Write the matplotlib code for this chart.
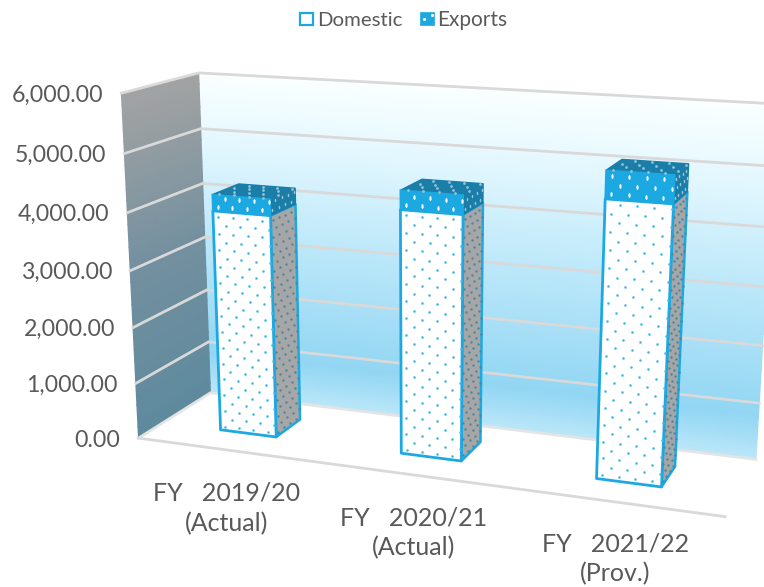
import numpy as np
import matplotlib
matplotlib.use("Agg")
import matplotlib.pyplot as plt
from matplotlib.colors import LinearSegmentedColormap
from matplotlib.markers import MarkerStyle
from matplotlib.patches import Polygon, Rectangle
from matplotlib.transforms import Affine2D

plt.rcParams['font.family'] = ['Lato', 'DejaVu Sans']

categories = ["FY   2019/20\n(Actual)", "FY   2020/21\n(Actual)", "FY   2021/22\n(Prov.)"]
domestic = [3940.0, 4220.0, 4650.0]
exports = [280.0, 320.0, 450.0]
y_ticks = [0, 1000, 2000, 3000, 4000, 5000, 6000]
y_labels = ["0.00", "1,000.00", "2,000.00", "3,000.00", "4,000.00", "5,000.00", "6,000.00"]

BLUE = "#1CA9E2"
GRID = "#d9d9d9"
TEXT = "#595959"

# Perspective camera: world (category position, depth, value) -> canvas pixels
calib_world = np.array([(0, 0, 0), (0, 0, 6000), (0, 1, 0), (0, 1, 6000),
                        (3, 1, 0), (3, 1, 6000), (3, 0, 0)], float)
calib_px = np.array([(138, 438), (122, 93), (211, 393), (198, 73),
                     (756, 459), (777, 104), (725, 517)], float)
A = []
for (u, v, w), (x, y) in zip(calib_world, calib_px):
    w = w / 1000
    A.append([u, v, w, 1, 0, 0, 0, 0, -x*u, -x*v, -x*w, -x])
    A.append([0, 0, 0, 0, u, v, w, 1, -y*u, -y*v, -y*w, -y])
CAM = np.linalg.svd(np.array(A))[2][-1].reshape(3, 4)


def proj(u, v, w):
    u, v, w = np.broadcast_arrays(np.asarray(u, float), np.asarray(v, float), np.asarray(w, float))
    h = np.stack([u, v, w / 1000, np.ones_like(u)], -1) @ CAM.T
    return h[..., 0] / h[..., 2], h[..., 1] / h[..., 2]


def pts(*corners):
    return np.column_stack(proj(*np.array(corners).T))


fig = plt.figure(figsize=(7.64, 5.87), dpi=100)
ax = fig.add_axes([0, 0, 1, 1])
ax.set_xlim(0, 764)
ax.set_ylim(587, 0)
ax.axis("off")

top = y_ticks[-1]
n = len(categories)

# Back wall and side wall gradients
back_cmap = LinearSegmentedColormap.from_list("b", [(0, "#bce7f9"), (0.13, "#92d6f3"), (0.5, "#bde8fa"),
                                                    (0.85, "#eafaff"), (1, "#fbffff")])
side_cmap = LinearSegmentedColormap.from_list("s", [(0, "#5e8a9e"), (0.5, "#73909f"), (1, "#a3a3a3")])
ug, wg = np.meshgrid(np.linspace(0, n, 31), np.linspace(0, top, 31))
X, Y = proj(ug, 1.0, wg)
ax.pcolormesh(X, Y, wg / top, cmap=back_cmap, vmin=0, vmax=1, shading="gouraud", zorder=1)
vg, wg2 = np.meshgrid(np.linspace(0, 1, 11), np.linspace(0, top, 31))
X, Y = proj(0.0, vg, wg2)
ax.pcolormesh(X, Y, wg2 / top, cmap=side_cmap, vmin=0, vmax=1, shading="gouraud", zorder=1)

# Gridlines
for t in y_ticks:
    c = pts((0, 0, t), (0, 1, t), (n, 1, t))
    ax.plot(c[:, 0], c[:, 1], color=GRID if t else "#e4e4e4", lw=2.0, zorder=2, solid_joinstyle="miter")
c = pts((0, 0, 0), (n, 0, 0))
ax.plot(c[:, 0], c[:, 1], color=GRID, lw=2.0, zorder=2)

# Bars
hw = 0.158
v0, v1 = 0.33, 0.70
du, dw = 0.08, 145.0
dv = (v1 - v0) / 4


def dots(xs, ys, fn, color, size, marker="o"):
    px, py = [], []
    step = xs[1] - xs[0]
    for j, s in enumerate(ys):
        off = 0.5 * step * (j % 2)
        for x0 in xs:
            if x0 + off < xs[-1] + step * 0.6:
                p = fn(x0 + off, s)
                px.append(float(p[0]))
                py.append(float(p[1]))
    ax.scatter(px, py, s=size, c=color, marker=marker, linewidths=0, zorder=5)


stretched = MarkerStyle("o", transform=Affine2D().scale(0.5, 1.1))

for i in range(n):
    cu = i + 0.49
    a, b = cu - hw, cu + hw
    d = domestic[i]
    e = d + exports[i]
    # domestic
    front = pts((a, v0, 0), (b, v0, 0), (b, v0, d), (a, v0, d))
    side = pts((b, v0, 0), (b, v1, 0), (b, v1, d), (b, v0, d))
    ax.add_patch(Polygon(side, fc="#a6a6a6", ec=BLUE, lw=1.8, zorder=4, joinstyle="round"))
    ax.add_patch(Polygon(front, fc="white", ec=BLUE, lw=2.0, zorder=4, joinstyle="round"))
    us = np.arange(a + du * 0.35, b - du * 0.4, du)
    ws = np.arange(dw * 0.5, d - dw * 0.3, dw)
    dots(us, ws, lambda p, q: proj(p, v0, q), "#45b8e6", 3.5)
    vs = np.arange(v0 + dv * 0.3, v1 - dv * 0.4, dv)
    dots(vs, ws, lambda p, q: proj(b, p, q), "#4a87a3", 3)
    # exports
    f2 = pts((a, v0, d), (b, v0, d), (b, v0, e), (a, v0, e))
    s2 = pts((b, v0, d), (b, v1, d), (b, v1, e), (b, v0, e))
    t2 = pts((a, v0, e), (b, v0, e), (b, v1, e), (a, v1, e))
    ax.add_patch(Polygon(s2, fc="#1a7ea8", ec="#1a7ea8", lw=1.0, zorder=4))
    ax.add_patch(Polygon(t2, fc="#1a7ea8", ec="#1a7ea8", lw=1.0, zorder=4))
    ax.add_patch(Polygon(f2, fc=BLUE, ec=BLUE, lw=1.2, zorder=4))
    ws2 = np.arange(d + dw * 0.55, e - dw * 0.2, dw)
    dots(us, ws2, lambda p, q: proj(p, v0, q), "white", 10, stretched)
    dots(vs, ws2, lambda p, q: proj(b, p, q), "#9cc6d8", 5, stretched)
    dots(us, np.linspace(v0 + dv * 0.3, v1 - dv * 0.3, 4),
         lambda p, q: proj(p, q, e), "#8fc3d8", 4)

# Axis text
for t, lab in zip(y_ticks, y_labels):
    x, y = proj(0.0, 0.0, t)
    ax.text(float(x) - 18, float(y) + 2, lab, ha="right", va="center", fontsize=16.7, color=TEXT, zorder=6)
for i, lab in enumerate(categories):
    x, y = proj(i + 0.5, 0.0, 0)
    ax.text(float(x) - i, float(y) + 32 - i, lab, ha="center", va="top", fontsize=18,
            color=TEXT, linespacing=1.36, zorder=6)

# Legend
ax.add_patch(Rectangle((300, 12.5), 13, 12.5, fc="white", ec=BLUE, lw=1.6, zorder=6))
ax.add_patch(Rectangle((420, 12), 13.5, 13, fc=BLUE, ec=BLUE, lw=0.5, zorder=6))
ax.scatter([424, 432], [19, 15], s=5, c="white", linewidths=0, zorder=7)
ax.text(317, 20, "Domestic", ha="left", va="center", fontsize=14.7, color=TEXT)
ax.text(437, 20, "Exports", ha="left", va="center", fontsize=15, color=TEXT)

fig.savefig("out.png", dpi=100)
